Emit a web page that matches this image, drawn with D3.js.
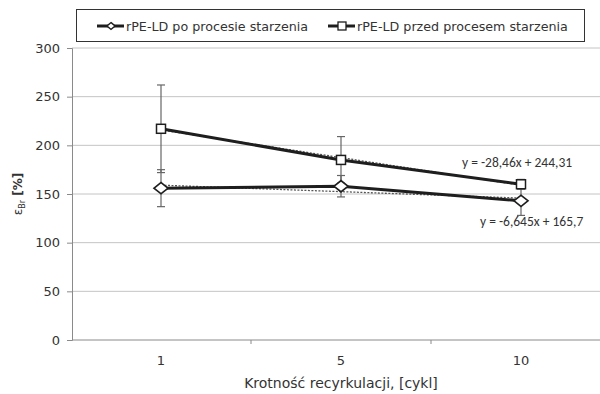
<!DOCTYPE html>
<html>
<head>
<meta charset="utf-8">
<script src="https://cdn.jsdelivr.net/npm/d3@7"></script>
<style>
  body { margin: 0; background: #fff; }
  text { font-family: "DejaVu Sans", Verdana, sans-serif; }
</style>
</head>
<body>
<script>
const cycles = ['1', '5', '10'];
const agedValues = [156, 158, 143];
const agedErrors = [19, 11, 15];
const freshValues = [217, 185, 160];
const freshErrors = [45, 24, 5];
const agedTrend = { a: -6.645, b: 165.7, label: 'y = -6,645x + 165,7' };
const freshTrend = { a: -28.46, b: 244.31, label: 'y = -28,46x + 244,31' };
const yTicks = [0, 50, 100, 150, 200, 250, 300];
const seriesNames = ['rPE-LD po procesie starzenia', 'rPE-LD przed procesem starzenia'];

const width = 600, height = 394;
const margin = { top: 48, left: 72, bottom: 54 };

const svg = d3.select('body')
  .append('svg')
  .attr('width', width)
  .attr('height', height);

const xScale = d3.scaleBand()
  .domain(cycles)
  .range([71, 611]);

const yScale = d3.scaleLinear()
  .domain([0, 300])
  .range([height - margin.bottom, margin.top]);

const cx = c => xScale(c) + xScale.bandwidth() / 2;

// gridlines
svg.append('g')
  .selectAll('line')
  .data(yTicks.filter(d => d > 0))
  .enter()
  .append('line')
  .attr('x1', margin.left)
  .attr('x2', width)
  .attr('y1', d => yScale(d))
  .attr('y2', d => yScale(d))
  .attr('stroke', '#c4c4c4')
  .attr('stroke-width', 1);

// y axis
const yAxis = d3.axisLeft(yScale).tickValues(yTicks).tickSize(5).tickPadding(7);
const yg = svg.append('g')
  .attr('transform', `translate(${margin.left},0)`)
  .call(yAxis);
yg.select('.domain').attr('stroke', '#8a8a8a');
yg.selectAll('.tick line').attr('stroke', '#8a8a8a');
yg.selectAll('.tick text').attr('font-size', 13).attr('fill', '#333');

// x axis
const xAxis = d3.axisBottom(xScale).tickSize(0).tickPadding(16);
const xg = svg.append('g')
  .attr('transform', `translate(0,${yScale(0)})`)
  .call(xAxis);
xg.select('.domain').attr('stroke', '#8a8a8a').attr('d', `M${margin.left},0H${width}`);
xg.selectAll('.tick text').attr('font-size', 13).attr('fill', '#333');
svg.append('g')
  .selectAll('line')
  .data(cycles.slice(1))
  .enter()
  .append('line')
  .attr('x1', d => xScale(d))
  .attr('x2', d => xScale(d))
  .attr('y1', yScale(0))
  .attr('y2', yScale(0) + 4)
  .attr('stroke', '#8a8a8a');

// error bars
function errorBars(values, errors) {
  const g = svg.append('g').attr('stroke', '#666').attr('stroke-width', 1.2);
  cycles.forEach((c, i) => {
    const x = cx(c);
    const hi = yScale(values[i] + errors[i]);
    const lo = yScale(values[i] - errors[i]);
    g.append('line').attr('x1', x).attr('x2', x).attr('y1', hi).attr('y2', lo);
    g.append('line').attr('x1', x - 4).attr('x2', x + 4).attr('y1', hi).attr('y2', hi);
    g.append('line').attr('x1', x - 4).attr('x2', x + 4).attr('y1', lo).attr('y2', lo);
  });
}
errorBars(freshValues, freshErrors);
errorBars(agedValues, agedErrors);

// trendlines
function trendLine(t) {
  const pts = cycles.map((c, i) => [cx(c), yScale(t.a * (i + 1) + t.b)]);
  svg.append('path')
    .attr('d', d3.line()(pts))
    .attr('fill', 'none')
    .attr('stroke', '#555')
    .attr('stroke-width', 1.3)
    .attr('stroke-dasharray', '2 1.5');
}
trendLine(freshTrend);
trendLine(agedTrend);

// series lines
const line = d3.line().x((d, i) => cx(cycles[i])).y(d => yScale(d));
[agedValues, freshValues].forEach(vals => {
  svg.append('path')
    .attr('d', line(vals))
    .attr('fill', 'none')
    .attr('stroke', '#1e1e1e')
    .attr('stroke-width', 3);
});

// markers
svg.append('g')
  .selectAll('path')
  .data(agedValues)
  .enter()
  .append('path')
  .attr('d', d3.symbol(d3.symbolDiamond2, 80)())
  .attr('transform', (d, i) => `translate(${cx(cycles[i])},${yScale(d)}) scale(1.25,1)`)
  .attr('fill', '#fff')
  .attr('stroke', '#1e1e1e')
  .attr('stroke-width', 1.5);

svg.append('g')
  .selectAll('rect')
  .data(freshValues)
  .enter()
  .append('rect')
  .attr('x', (d, i) => cx(cycles[i]) - 4.5)
  .attr('y', d => yScale(d) - 4.5)
  .attr('width', 9)
  .attr('height', 9)
  .attr('fill', '#fff')
  .attr('stroke', '#1e1e1e')
  .attr('stroke-width', 1.5);

// trend equations
svg.append('text')
  .attr('x', 462)
  .attr('y', 167)
  .style('font-family', 'Carlito, "Liberation Sans", sans-serif')
  .attr('font-size', 13.5)
  .attr('fill', '#333')
  .text(freshTrend.label);

svg.append('text')
  .attr('x', 480)
  .attr('y', 226)
  .style('font-family', 'Carlito, "Liberation Sans", sans-serif')
  .attr('font-size', 13.5)
  .attr('fill', '#333')
  .text(agedTrend.label);

// legend
svg.append('rect')
  .attr('x', 76.5)
  .attr('y', 9.5)
  .attr('width', 508)
  .attr('height', 32)
  .attr('fill', '#fff')
  .attr('stroke', '#333')
  .attr('stroke-width', 1);

const legendX = [97, 328];
seriesNames.forEach((name, i) => {
  const g = svg.append('g').attr('transform', `translate(${legendX[i]},26)`);
  g.append('line').attr('x1', 0).attr('x2', 27).attr('stroke', '#1e1e1e').attr('stroke-width', 3);
  if (i === 0) {
    g.append('path')
      .attr('d', d3.symbol(d3.symbolDiamond2, 30)())
      .attr('transform', 'translate(14,0) scale(1.2,1)')
      .attr('fill', '#fff').attr('stroke', '#1e1e1e').attr('stroke-width', 1.3);
  } else {
    g.append('rect').attr('x', 10).attr('y', -4).attr('width', 8).attr('height', 8)
      .attr('fill', '#fff').attr('stroke', '#1e1e1e').attr('stroke-width', 1.3);
  }
  g.append('text')
    .attr('x', 29)
    .attr('y', 4.5)
    .attr('font-size', 12.7)
    .attr('fill', '#333')
    .text(name);
});

// axis titles
svg.append('text')
  .attr('x', 341)
  .attr('y', 388)
  .attr('text-anchor', 'middle')
  .attr('font-size', 14)
  .attr('fill', '#333')
  .text('Krotność recyrkulacji, [cykl]');

const yTitle = svg.append('text')
  .attr('transform', 'translate(22,194) rotate(-90)')
  .attr('text-anchor', 'middle')
  .attr('fill', '#333')
  .attr('font-size', 12)
  .attr('font-weight', 'bold');
yTitle.append('tspan').attr('font-weight', 'normal').text('ε');
yTitle.append('tspan').attr('font-size', 8).attr('font-weight', 'normal').attr('dy', 3).text('Br');
yTitle.append('tspan').attr('dy', -3).text(' [%]');
</script>
</body>
</html>
